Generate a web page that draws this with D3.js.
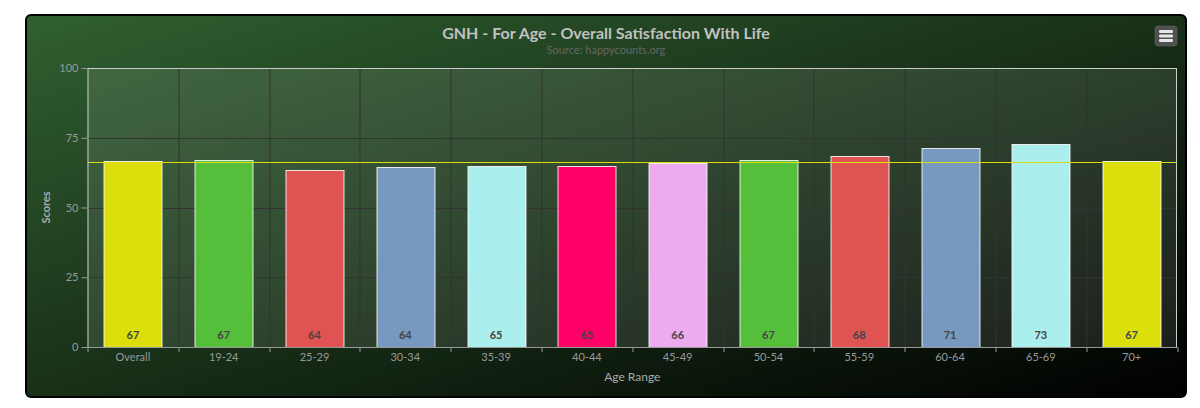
<!DOCTYPE html>
<html>
<head>
<meta charset="utf-8">
<script src="https://cdn.jsdelivr.net/npm/d3@7"></script>
<style>
  body { margin: 0; background: #fff; }
  svg text { font-family: Lato, "DejaVu Sans", sans-serif; }
</style>
</head>
<body>
<svg id="chart" width="1200" height="408"></svg>
<script>
// Data
const categories = ['Overall', '19-24', '25-29', '30-34', '35-39', '40-44', '45-49', '50-54', '55-59', '60-64', '65-69', '70+'];
const scores = [66.6, 67.0, 63.6, 64.4, 65.0, 64.9, 65.9, 67.0, 68.3, 71.4, 72.6, 66.7];
const barColors = ['#DDDF0D', '#55BF3B', '#DF5353', '#7798BF', '#aaeeee', '#ff0066', '#eeaaee',
                   '#55BF3B', '#DF5353', '#7798BF', '#aaeeee', '#DDDF0D'];
const yTicks = [0, 25, 50, 75, 100];
const averageScore = 66.3;

const card = {x: 26, y: 15, width: 1160, height: 382};
const margin = {top: 68, left: 87.5, right: 1200 - 1177, bottom: 408 - 347};
const width = 1200 - margin.left - margin.right;
const height = 408 - margin.top - margin.bottom;

const svg = d3.select('#chart');
const defs = svg.append('defs');

// Card background gradient (dark green to black)
const grad = defs.append('linearGradient')
    .attr('id', 'bg').attr('x1', 0).attr('y1', 0).attr('x2', 1).attr('y2', 1);
grad.append('stop').attr('offset', '0%').attr('stop-color', 'rgb(48,96,48)');
grad.append('stop').attr('offset', '100%').attr('stop-color', 'rgb(0,0,0)');

svg.append('rect')
    .attr('x', card.x).attr('y', card.y)
    .attr('width', card.width).attr('height', card.height)
    .attr('rx', 5)
    .attr('fill', 'url(#bg)')
    .attr('stroke', '#000')
    .attr('stroke-width', 2);

// Title & subtitle
svg.append('text')
    .attr('x', 606).attr('y', 39)
    .attr('text-anchor', 'middle')
    .attr('fill', '#C0C0C0')
    .attr('font-size', 16)
    .attr('font-weight', 'bold')
    .text('GNH - For Age - Overall Satisfaction With Life');
svg.append('text')
    .attr('x', 606).attr('y', 54)
    .attr('text-anchor', 'middle')
    .attr('fill', '#666')
    .attr('font-size', 11)
    .text('Source: happycounts.org');

// Export menu button
const btn = svg.append('g').attr('transform', 'translate(1155,26)');
btn.append('rect').attr('width', 22).attr('height', 20).attr('rx', 3)
    .attr('fill', '#505050').attr('stroke', '#666').attr('stroke-width', 0.5);
[5.5, 10, 14.5].forEach(y => {
    btn.append('rect').attr('x', 4).attr('y', y - 1.5).attr('width', 14).attr('height', 3)
        .attr('rx', 1.2).attr('fill', '#e6e6e6');
});

const chart = svg.append('g')
    .attr('transform', `translate(${margin.left},${margin.top})`);

// Scales
const xScale = d3.scaleBand()
    .domain(categories)
    .range([0, width])
    .padding(0);

const yScale = d3.scaleLinear()
    .domain([0, 100])
    .range([height, 0]);

// Plot background
chart.append('rect')
    .attr('width', width).attr('height', height)
    .attr('fill', 'rgba(255,255,255,0.1)');

// Grid lines
chart.append('g')
    .selectAll('line')
    .data(yTicks.filter(d => d > 0 && d < 100))
    .join('line')
    .attr('x1', 0).attr('x2', width)
    .attr('y1', d => Math.round(yScale(d)) + 0.5)
    .attr('y2', d => Math.round(yScale(d)) + 0.5)
    .attr('stroke', '#333');

const boundaries = categories.map(c => xScale(c)).concat([width]);
chart.append('g')
    .selectAll('line')
    .data(boundaries.slice(1, -1))
    .join('line')
    .attr('x1', d => Math.round(d) + 0.5).attr('x2', d => Math.round(d) + 0.5)
    .attr('y1', 0).attr('y2', height)
    .attr('stroke', '#333');

// Bars
const barInset = 16.4;
chart.selectAll('.bar')
    .data(scores)
    .join('rect')
    .attr('class', 'bar')
    .attr('x', (d, i) => Math.round(xScale(categories[i]) + barInset) + 0.5)
    .attr('width', Math.round(xScale.bandwidth() - 2 * barInset))
    .attr('y', d => Math.round(yScale(d)) + 0.5)
    .attr('height', d => height - Math.round(yScale(d)))
    .attr('fill', (d, i) => barColors[i])
    .attr('stroke', '#fff')
    .attr('stroke-opacity', 0.85);

// Average line
chart.append('line')
    .attr('x1', 0).attr('x2', width)
    .attr('y1', Math.round(yScale(averageScore)) + 0.5)
    .attr('y2', Math.round(yScale(averageScore)) + 0.5)
    .attr('stroke', '#DDDF0D')
    .attr('stroke-width', 1);

// Data labels inside bars
chart.selectAll('.label')
    .data(scores)
    .join('text')
    .attr('class', 'label')
    .attr('x', (d, i) => xScale(categories[i]) + xScale.bandwidth() / 2)
    .attr('y', height - 8)
    .attr('text-anchor', 'middle')
    .attr('font-size', 11)
    .attr('font-weight', 'bold')
    .attr('fill', '#444')
    .text(d => Math.round(d));

// Plot border
chart.append('rect')
    .attr('x', 0.5).attr('y', 0.5)
    .attr('width', width - 1).attr('height', height)
    .attr('fill', 'none')
    .attr('stroke', '#ccc');

// Y axis
const yAxis = d3.axisLeft(yScale)
    .tickValues(yTicks)
    .tickSize(6)
    .tickPadding(3);
const yAxisG = chart.append('g').call(yAxis);
yAxisG.select('.domain').remove();
yAxisG.selectAll('line').attr('stroke', '#999');
yAxisG.selectAll('text')
    .attr('fill', '#999')
    .attr('font-size', 11)
    .style('font-family', 'Lato, "DejaVu Sans", sans-serif');

// X axis
const xAxis = d3.axisBottom(xScale)
    .tickSize(0)
    .tickPadding(6);
const xAxisG = chart.append('g')
    .attr('transform', `translate(0,${height})`)
    .call(xAxis);
xAxisG.select('.domain').attr('stroke', '#999');
xAxisG.selectAll('text')
    .attr('fill', '#999')
    .attr('font-size', 11)
    .style('font-family', 'Lato, "DejaVu Sans", sans-serif');

// X tick marks at category boundaries
xAxisG.append('g')
    .selectAll('line')
    .data(boundaries)
    .join('line')
    .attr('x1', d => Math.round(d) + 0.5).attr('x2', d => Math.round(d) + 0.5)
    .attr('y1', 0).attr('y2', 5)
    .attr('stroke', '#999');

// Axis titles
svg.append('text')
    .attr('transform', `translate(50,${margin.top + height / 2}) rotate(-90)`)
    .attr('text-anchor', 'middle')
    .attr('fill', '#AAA')
    .attr('font-size', 11)
    .attr('font-weight', 'bold')
    .text('Scores');

svg.append('text')
    .attr('x', margin.left + width / 2).attr('y', 381)
    .attr('text-anchor', 'middle')
    .attr('fill', '#AAA')
    .attr('font-size', 12)
    .text('Age Range');
</script>
</body>
</html>
